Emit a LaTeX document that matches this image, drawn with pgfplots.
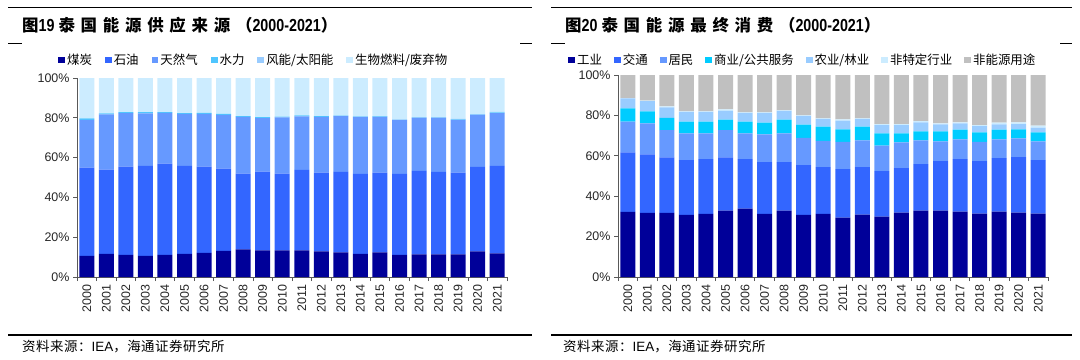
\documentclass[border=0pt]{standalone}
\usepackage{fontspec}
\usepackage{graphicx}
\usepackage{pgfplots}
\usepackage{pgfplotstable}
\pgfplotsset{compat=1.18}
\setmainfont{Liberation Sans}
\newfontfamily\cjk{Noto Sans CJK SC}
\newfontfamily\cjkt{Noto Sans CJK SC}[LetterSpace=35]
\newfontfamily\cjkf{Noto Sans CJK SC}[LetterSpace=4]

\definecolor{cA}{HTML}{000099}
\definecolor{cB}{HTML}{3366FF}
\definecolor{cC}{HTML}{6699FF}
\definecolor{cD}{HTML}{4FC6FF}
\definecolor{cE}{HTML}{99CCFF}
\definecolor{cF}{HTML}{CCECFF}
\definecolor{cG}{HTML}{00CCFF}
\definecolor{cH}{HTML}{C0C0C0}
\definecolor{axc}{HTML}{595959}

\pgfplotstableread{
x coal oil gas hydro wind bio
0  10.6 44.4 24.0 0.7 0.0 20.3
1  11.6 42.4 27.7 0.5 0.0 17.8
2  11.1 44.4 26.9 0.5 0.0 17.1
3  10.6 45.2 26.4 0.6 0.0 17.2
4  11.1 45.9 25.5 0.4 0.0 17.1
5  11.6 44.2 26.2 0.4 0.0 17.6
6  12.1 43.4 26.5 0.5 0.0 17.5
7  13.1 41.4 27.0 0.5 0.0 18.0
8  13.9 38.0 28.6 0.4 0.0 19.1
9  13.4 39.5 26.9 0.5 0.0 19.7
10 13.4 38.5 28.3 0.4 0.0 19.4
11 13.4 40.4 26.9 0.5 0.0 18.8
12 12.9 39.5 28.1 0.4 0.0 19.1
13 12.4 40.4 28.0 0.3 0.1 18.8
14 11.6 40.2 28.5 0.3 0.2 19.2
15 12.4 40.0 28.1 0.2 0.2 19.1
16 11.1 40.7 27.0 0.2 0.2 20.8
17 11.4 41.9 26.5 0.2 0.3 19.7
18 11.4 41.4 27.0 0.2 0.3 19.7
19 11.4 41.0 26.6 0.2 0.3 20.5
20 12.9 42.4 26.0 0.2 0.3 18.2
21 11.9 43.9 26.6 0.3 0.3 17.0
}\supply

\pgfplotstableread{
x ind tra res com agr nsp nen
0  32.2 29.5 15.2 6.6 4.9 0.2 11.4
1  31.7 29.0 15.3 6.0 5.1 0.2 12.7
2  31.7 27.5 13.5 6.1 5.2 0.5 15.5
3  30.7 27.2 13.2 5.8 4.9 0.2 18.0
4  31.2 27.1 12.8 5.8 4.9 0.2 18.0
5  32.9 26.3 13.5 5.2 4.4 0.7 17.0
6  33.9 24.4 12.8 5.8 4.4 0.2 18.5
7  31.2 25.7 13.7 5.8 4.9 0.2 18.5
8  32.9 24.0 14.2 6.8 4.4 0.2 17.5
9  30.7 24.7 13.5 6.5 4.4 0.2 20.0
10 31.2 23.2 13.0 7.0 3.9 0.2 21.5
11 29.4 24.0 13.5 6.2 4.3 0.6 22.0
12 30.9 23.5 13.2 6.8 3.9 0.2 21.5
13 29.9 22.5 12.7 6.0 4.1 0.5 24.3
14 31.9 22.0 12.7 4.5 4.1 0.5 24.3
15 32.9 23.0 11.7 4.5 4.4 0.7 22.8
16 32.9 24.5 9.7 5.0 3.4 0.5 24.0
17 32.4 25.9 9.8 4.8 3.1 0.5 23.5
18 31.4 26.0 9.5 4.7 3.1 0.5 24.8
19 32.4 26.4 9.3 4.8 2.6 0.9 23.6
20 31.9 27.4 9.3 4.5 2.6 0.8 23.5
21 31.4 26.5 9.2 4.5 2.4 1.0 25.0
}\consum

\pgfplotsset{
  panel/.style={
    anchor=south west, scale only axis,
    xmin=-0.5, xmax=21.5, ymin=0, ymax=100,
    ybar stacked, bar width=15bp,
    axis x line*=bottom, axis y line*=left,
    axis line style={axc, line width=0.8bp},
    tick align=outside,
    xtick={0,...,21},
    xticklabels={2000,2001,2002,2003,2004,2005,2006,2007,2008,2009,2010,2011,2012,2013,2014,2015,2016,2017,2018,2019,2020,2021},
    major x tick style={draw=none},
    minor xtick={-0.5,0.5,...,21.5},
    minor tick length=4bp, major tick length=4bp,
    every tick/.style={axc, line width=0.8bp},
    ytick={0,20,40,60,80,100},
    yticklabels={0\%,20\%,40\%,60\%,80\%,100\%},
    xticklabel style={rotate=90, anchor=east, font=\fontsize{12.5}{13}\selectfont, text=black!85},
    yticklabel style={font=\fontsize{12.5}{13}\selectfont, text=black!85},
    legend columns=-1,
    legend image code/.code={\fill[##1] (0bp,-3.4bp) rectangle (6.8bp,3.4bp);},
    legend style={draw=none, fill=none, anchor=west,
      font=\cjk\fontsize{12.5}{13}\selectfont,
      /tikz/every odd column/.append style={column sep=0bp},
      inner sep=0pt},
  }
}

\begin{document}
\begin{tikzpicture}
\useasboundingbox (0,0) rectangle (1080bp,-360bp);

% ---------- left panel frame ----------
\draw[line width=1.6bp] (8bp,-7.5bp) -- (532bp,-7.5bp);
\draw[line width=1bp] (8bp,-43bp) -- (22bp,-43bp);
\draw[line width=1bp] (520bp,-43bp) -- (532bp,-43bp);
\draw[line width=1.6bp] (8bp,-335bp) -- (532bp,-335bp);
\node[anchor=west, inner sep=0pt] at (22bp,-25bp)
  {\cjkt\bfseries\fontsize{16.5}{18}\selectfont 图\scalebox{0.82}[1]{\fontspec{Liberation Sans}\bfseries\fontsize{17.5}{18}\selectfont 19}\hspace{4bp}泰国能源供应来源（\scalebox{0.82}[1]{\fontspec{Liberation Sans}\bfseries\fontsize{17.5}{18}\selectfont 2000-2021}）};
\node[anchor=west, inner sep=0pt] at (22bp,-347bp)
  {\cjkf\fontsize{13.5}{14}\selectfont 资料来源：{\fontspec{Liberation Sans}IEA}，海通证券研究所};

% ---------- right panel frame ----------
\draw[line width=1.6bp] (551bp,-7.5bp) -- (1072bp,-7.5bp);
\draw[line width=1bp] (551bp,-43bp) -- (565bp,-43bp);
\draw[line width=1bp] (1060bp,-43bp) -- (1072bp,-43bp);
\draw[line width=1.6bp] (551bp,-335bp) -- (1072bp,-335bp);
\node[anchor=west, inner sep=0pt] at (565bp,-25bp)
  {\cjkt\bfseries\fontsize{16.5}{18}\selectfont 图\scalebox{0.82}[1]{\fontspec{Liberation Sans}\bfseries\fontsize{17.5}{18}\selectfont 20}\hspace{4bp}泰国能源最终消费（\scalebox{0.82}[1]{\fontspec{Liberation Sans}\bfseries\fontsize{17.5}{18}\selectfont 2000-2021}）};
\node[anchor=west, inner sep=0pt] at (563bp,-347bp)
  {\cjkf\fontsize{13.5}{14}\selectfont 资料来源：{\fontspec{Liberation Sans}IEA}，海通证券研究所};

% ---------- left chart ----------
\begin{axis}[panel,
  at={(77bp,-277bp)}, width=430bp, height=199bp,
  legend style={at={(-0.044,1.09)},
    /tikz/every even column/.append style={column sep=11bp}},
]
\addplot[fill=cA, draw=none] table[x=x, y=coal] {\supply};
\addplot[fill=cB, draw=none] table[x=x, y=oil] {\supply};
\addplot[fill=cC, draw=none] table[x=x, y=gas] {\supply};
\addplot[fill=cD, draw=none] table[x=x, y=hydro] {\supply};
\addplot[fill=cE, draw=none] table[x=x, y=wind] {\supply};
\addplot[fill=cF, draw=none] table[x=x, y=bio] {\supply};
\legend{煤炭,石油,天然气,水力,风能/太阳能,生物燃料/废弃物}
\end{axis}

% ---------- right chart ----------
\begin{axis}[panel,
  at={(618bp,-277bp)}, width=430bp, height=202bp,
  legend style={at={(-0.116,1.074)},
    /tikz/every even column/.append style={column sep=10bp}},
]
\addplot[fill=cA, draw=none] table[x=x, y=ind] {\consum};
\addplot[fill=cB, draw=none] table[x=x, y=tra] {\consum};
\addplot[fill=cC, draw=none] table[x=x, y=res] {\consum};
\addplot[fill=cG, draw=none] table[x=x, y=com] {\consum};
\addplot[fill=cE, draw=none] table[x=x, y=agr] {\consum};
\addplot[fill=cF, draw=none] table[x=x, y=nsp] {\consum};
\addplot[fill=cH, draw=none] table[x=x, y=nen] {\consum};
\legend{工业,交通,居民,商业/公共服务,农业/林业,非特定行业,非能源用途}
\end{axis}
\end{tikzpicture}
\end{document}
